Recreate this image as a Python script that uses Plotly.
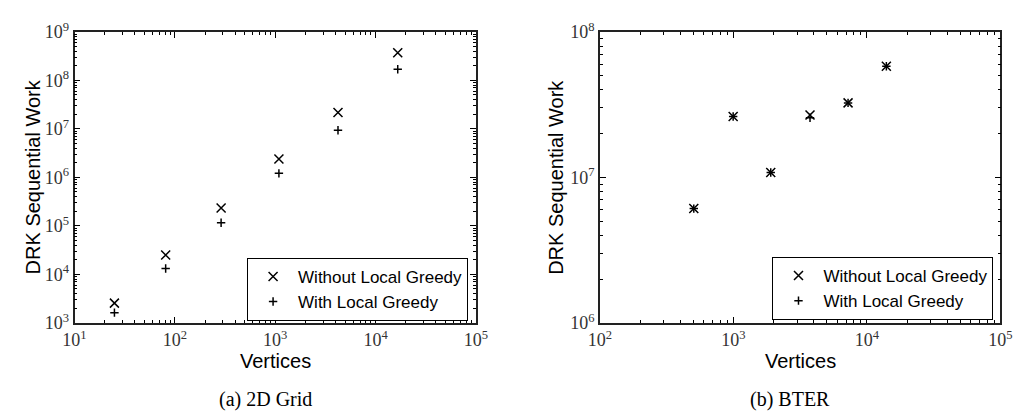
import plotly.graph_objects as go
import math

# ---- data ----
grid_vertices = [25, 81, 289, 1089, 4225, 16641]
grid_without = [2550, 25000, 233000, 2.39e6, 2.18e7, 3.7e8]
grid_with = [1620, 13200, 116000, 1.21e6, 9.4e6, 1.7e8]

bter_vertices = [505, 996, 1905, 3750, 7230, 14000]
bter_without = [6.1e6, 2.62e7, 1.08e7, 2.68e7, 3.25e7, 5.8e7]
bter_with = [6.1e6, 2.62e7, 1.08e7, 2.57e7, 3.25e7, 5.8e7]

series_names = ["Without Local Greedy", "With Local Greedy"]
left_xticks = [10, 100, 1000, 10000, 100000]
left_yticks = [1e3, 1e4, 1e5, 1e6, 1e7, 1e8, 1e9]
right_xticks = [100, 1000, 10000, 100000]
right_yticks = [1e6, 1e7, 1e8]

W, H = 1026, 420
SANS = "Liberation Sans"
SERIF = "Liberation Serif"


def pow_label(v):
    return "10<sup>%d</sup>" % round(math.log10(v))


def minors(majors):
    out = []
    for m in majors[:-1]:
        for k in range(2, 10):
            out.append(m * k)
    return out


def px_x(p):
    return p / W


def px_y(p):
    return 1 - p / H


fig = go.Figure()

x_marker = dict(symbol="x-thin", color="black", size=9, line=dict(color="black", width=1.5))
p_marker = dict(symbol="cross-thin", color="black", size=6, line=dict(color="black", width=1.5))

fig.add_trace(go.Scatter(x=grid_vertices, y=grid_without, mode="markers", name=series_names[0],
                         marker=x_marker, xaxis="x", yaxis="y", legend="legend"))
fig.add_trace(go.Scatter(x=grid_vertices, y=grid_with, mode="markers", name=series_names[1],
                         marker=p_marker, xaxis="x", yaxis="y", legend="legend"))
fig.add_trace(go.Scatter(x=bter_vertices, y=bter_without, mode="markers", name=series_names[0],
                         marker=x_marker, xaxis="x2", yaxis="y2", legend="legend2"))
fig.add_trace(go.Scatter(x=bter_vertices, y=bter_with, mode="markers", name=series_names[1],
                         marker=p_marker, xaxis="x2", yaxis="y2", legend="legend2"))


def axis(domain, rng, ticks, anchor):
    return dict(
        type="log", domain=domain, range=rng, anchor=anchor,
        tickmode="array", tickvals=ticks, ticktext=[pow_label(t) for t in ticks],
        ticks="inside", ticklen=6, tickwidth=1, tickcolor="black",
        showline=True, linecolor="#222", linewidth=1.5, mirror="allticks",
        showgrid=False, zeroline=False,
        tickfont=dict(family=SERIF, size=18, color="#333"),
        minor=dict(tickvals=minors(ticks), ticks="inside", ticklen=3, tickwidth=1,
                   tickcolor="black", showgrid=False),
    )


ydom = [px_y(328), px_y(21)]
legend_common = dict(xanchor="right", yanchor="bottom", bordercolor="black", borderwidth=1,
                     bgcolor="white", itemwidth=40,
                     font=dict(family=SANS, size=17, color="black"), tracegroupgap=0)
fig.update_layout(
    width=W, height=H,
    margin=dict(l=0, r=0, t=0, b=0),
    paper_bgcolor="white", plot_bgcolor="white",
    xaxis=axis([px_x(64), px_x(475)], [1, 5], left_xticks, "y"),
    yaxis=axis(ydom, [3, 9], left_yticks, "x"),
    xaxis2=axis([px_x(602), px_x(1012)], [2, 5], right_xticks, "y2"),
    yaxis2=axis(ydom, [6, 8], right_yticks, "x2"),
    legend=dict(x=px_x(467), y=px_y(326), **legend_common),
    legend2=dict(x=px_x(1005), y=px_y(325), **legend_common),
    showlegend=True,
)

ann = []
for cx in (21, 557):
    ann.append(dict(text="DRK Sequential Work", x=px_x(cx), y=px_y(174), xref="paper", yref="paper",
                    showarrow=False, textangle=-90, xanchor="center", yanchor="middle",
                    font=dict(family=SANS, size=20, color="black")))
for cx in (270, 807):
    ann.append(dict(text="Vertices", x=px_x(cx), y=px_y(368), xref="paper", yref="paper",
                    showarrow=False, xanchor="center", yanchor="middle",
                    font=dict(family=SANS, size=20, color="black")))
for cx, t in ((260, "(a) 2D Grid"), (797, "(b) BTER")):
    ann.append(dict(text=t, x=px_x(cx), y=px_y(409), xref="paper", yref="paper",
                    showarrow=False, xanchor="center", yanchor="middle",
                    font=dict(family=SERIF, size=20, color="black")))
fig.update_layout(annotations=ann)

fig.write_html("out.html")
